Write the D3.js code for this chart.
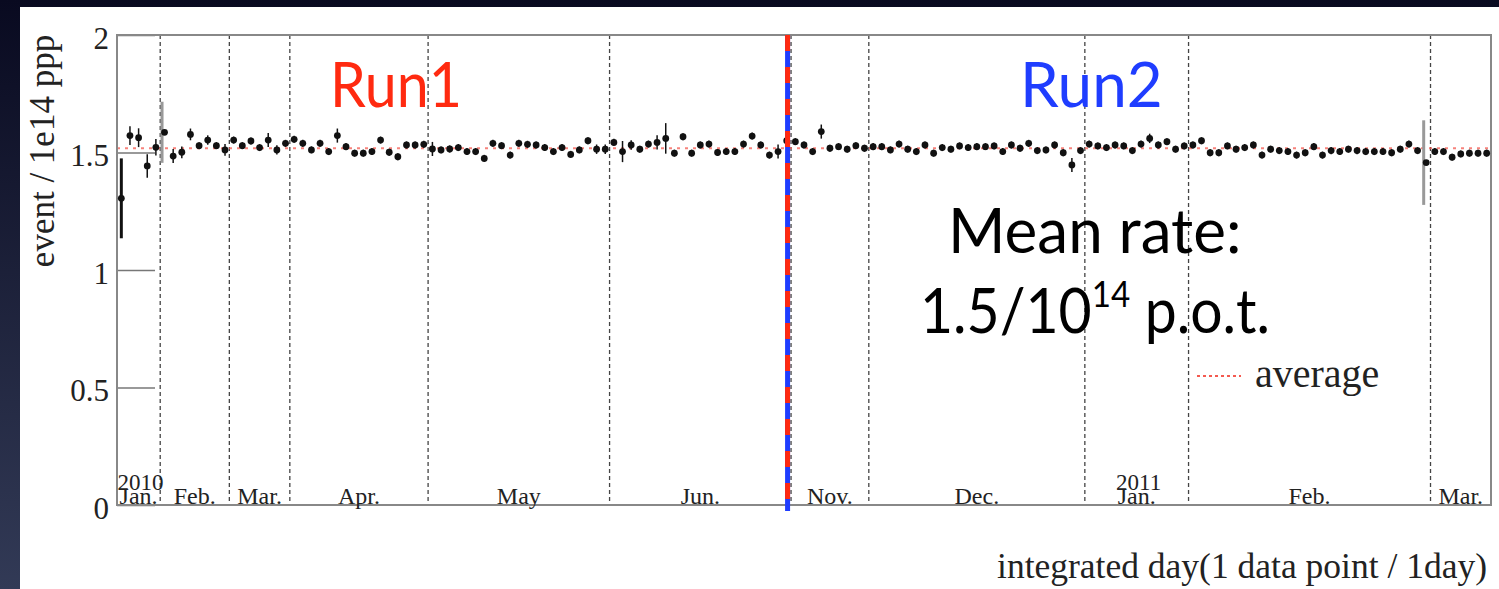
<!DOCTYPE html>
<html>
<head>
<meta charset="utf-8">
<script src="https://cdn.jsdelivr.net/npm/d3@7"></script>
<style>
  html, body { margin: 0; padding: 0; background: #0b0c24; }
  svg { display: block; }
  .serif { font-family: "Liberation Serif", "DejaVu Serif", serif; fill: #222; }
  .slide { font-family: Lato, "Open Sans", sans-serif; }
</style>
</head>
<body>
<svg id="chart" width="1499" height="589"></svg>
<script>
// Daily beam-normalised event rate (events per 1e14 protons), one value per day of data taking
const rate = [
  1.305, 1.572, 1.563, 1.443, 1.522, 1.586, 1.485, 1.501, 1.577, 1.529,
  1.553, 1.529, 1.511, 1.553, 1.529, 1.549, 1.521, 1.553, 1.511, 1.539,
  1.556, 1.539, 1.511, 1.539, 1.504, 1.572, 1.525, 1.497, 1.497, 1.504,
  1.553, 1.501, 1.482, 1.532, 1.532, 1.535, 1.515, 1.511, 1.515, 1.521,
  1.504, 1.504, 1.475, 1.539, 1.529, 1.489, 1.539, 1.535, 1.532, 1.521,
  1.504, 1.521, 1.492, 1.511, 1.550, 1.514, 1.514, 1.543, 1.504, 1.532,
  1.514, 1.536, 1.543, 1.560, 1.497, 1.567, 1.497, 1.532, 1.536, 1.500,
  1.504, 1.504, 1.536, 1.570, 1.532, 1.489, 1.504, 1.550, 1.546, 1.532,
  1.504, 1.589, 1.518, 1.525, 1.514, 1.529, 1.518, 1.525, 1.525, 1.511,
  1.536, 1.514, 1.504, 1.532, 1.497, 1.521, 1.514, 1.528, 1.521, 1.525,
  1.525, 1.528, 1.504, 1.532, 1.518, 1.539, 1.508, 1.511, 1.532, 1.499,
  1.447, 1.508, 1.536, 1.528, 1.521, 1.532, 1.528, 1.508, 1.536, 1.560,
  1.532, 1.546, 1.514, 1.528, 1.532, 1.550, 1.499, 1.499, 1.528, 1.514,
  1.521, 1.532, 1.489, 1.514, 1.508, 1.504, 1.489, 1.499, 1.525, 1.489,
  1.508, 1.504, 1.514, 1.508, 1.504, 1.504, 1.504, 1.499, 1.514, 1.536,
  1.508, 1.457, 1.504, 1.504, 1.480, 1.494, 1.497, 1.497, 1.497
];

// Statistical error on each daily value
const rateErr = [
  0.170, 0.040, 0.040, 0.050, 0.035, 0.130, 0.030, 0.025, 0.025, 0.015,
  0.020, 0.015, 0.025, 0.015, 0.015, 0.015, 0.015, 0.030, 0.020, 0.015,
  0.015, 0.015, 0.015, 0.015, 0.015, 0.030, 0.015, 0.015, 0.015, 0.015,
  0.015, 0.015, 0.015, 0.015, 0.015, 0.015, 0.030, 0.015, 0.015, 0.015,
  0.015, 0.015, 0.015, 0.015, 0.015, 0.015, 0.015, 0.015, 0.015, 0.015,
  0.015, 0.015, 0.015, 0.015, 0.015, 0.020, 0.020, 0.015, 0.045, 0.020,
  0.015, 0.015, 0.030, 0.065, 0.015, 0.015, 0.015, 0.015, 0.015, 0.015,
  0.015, 0.015, 0.015, 0.015, 0.015, 0.015, 0.030, 0.015, 0.015, 0.015,
  0.015, 0.030, 0.015, 0.015, 0.015, 0.015, 0.015, 0.015, 0.015, 0.015,
  0.015, 0.015, 0.015, 0.015, 0.015, 0.015, 0.015, 0.015, 0.015, 0.015,
  0.015, 0.015, 0.015, 0.015, 0.015, 0.015, 0.015, 0.015, 0.015, 0.015,
  0.030, 0.015, 0.015, 0.015, 0.015, 0.015, 0.015, 0.015, 0.015, 0.020,
  0.015, 0.015, 0.015, 0.015, 0.015, 0.015, 0.015, 0.015, 0.015, 0.015,
  0.015, 0.015, 0.015, 0.015, 0.015, 0.015, 0.015, 0.015, 0.015, 0.015,
  0.015, 0.015, 0.015, 0.015, 0.015, 0.015, 0.015, 0.015, 0.015, 0.015,
  0.015, 0.180, 0.015, 0.015, 0.015, 0.015, 0.015, 0.015, 0.015
];

// Days with only partial beam time (low statistics)
const partialDays = [5, 151];

// Month boundaries in integrated-day units and the month names between them
const monthEdges = [0, 5, 13, 20, 36, 57, 78, 87, 112, 124, 152, 159];
const monthNames = ["Jan.", "Feb.", "Mar.", "Apr.", "May", "Jun.", "Nov.", "Dec.", "Jan.", "Feb.", "Mar."];
const yearNames = ["2010", "2011"];
const yearMonthIndex = [0, 8];

const yTicks = [0, 0.5, 1, 1.5, 2];
const averageRate = 1.518;
const runSplitDay = 77.6;
const runNames = ["Run1", "Run2"];

const svg = d3.select("#chart");
const W = 1499, H = 589;

// slide backdrop
const defs = svg.append("defs");
const bg = defs.append("linearGradient").attr("id", "slideBg")
  .attr("x1", 0).attr("y1", 0).attr("x2", 0).attr("y2", 1);
bg.append("stop").attr("offset", "0%").attr("stop-color", "#090a20");
bg.append("stop").attr("offset", "100%").attr("stop-color", "#323a56");
svg.append("rect").attr("width", W).attr("height", H).attr("fill", "url(#slideBg)");
svg.append("rect").attr("x", 20).attr("y", 7).attr("width", W - 20).attr("height", H - 7).attr("fill", "#fff");

const frame = { left: 117, right: 1491, top: 35, bottom: 505 };
const x = d3.scaleLinear().domain([0, rate.length]).range([frame.left, frame.right]);
const y = d3.scaleLinear().domain([0, 2]).range([frame.bottom, frame.top]);

// month separators
svg.append("g").selectAll("line")
  .data(monthEdges.slice(1, -1))
  .join("line")
  .attr("x1", d => x(d)).attr("x2", d => x(d))
  .attr("y1", frame.top).attr("y2", frame.bottom)
  .attr("stroke", "#444").attr("stroke-width", 1.3)
  .attr("stroke-dasharray", "4,3");

// average line
svg.append("line")
  .attr("x1", frame.left).attr("x2", frame.right)
  .attr("y1", y(averageRate)).attr("y2", y(averageRate))
  .attr("stroke", "#f45a50").attr("stroke-opacity", 0.75)
  .attr("stroke-width", 2).attr("stroke-dasharray", "3,5");

// y axis with long inward ticks
const yAxis = d3.axisRight(y).tickValues(yTicks).tickSize(38).tickFormat("");
const gy = svg.append("g").attr("transform", `translate(${frame.left},0)`).call(yAxis);
gy.select(".domain").remove();
gy.selectAll(".tick line").attr("stroke", "#777").attr("stroke-width", 1.5);

svg.append("g").selectAll("text")
  .data(yTicks)
  .join("text")
  .attr("class", "serif")
  .attr("x", 109).attr("y", d => y(d) + 3)
  .attr("text-anchor", "end").attr("dominant-baseline", "central")
  .attr("font-size", 31)
  .text(d => d3.format("")(d));

// frame
svg.append("rect")
  .attr("x", frame.left).attr("y", frame.top)
  .attr("width", frame.right - frame.left).attr("height", frame.bottom - frame.top)
  .attr("fill", "none").attr("stroke", "#888").attr("stroke-width", 2);

// month labels
const months = monthNames.map((m, i) => ({ name: m, mid: (monthEdges[i] + monthEdges[i + 1]) / 2 }));
svg.append("g").selectAll("text")
  .data(months)
  .join("text")
  .attr("class", "serif")
  .attr("x", d => x(d.mid)).attr("y", frame.bottom - 1)
  .attr("text-anchor", "middle").attr("font-size", 24)
  .text(d => d.name);
svg.append("g").selectAll("text")
  .data(yearNames)
  .join("text")
  .attr("class", "serif")
  .attr("x", (d, i) => x(months[yearMonthIndex[i]].mid) + 2)
  .attr("y", frame.bottom - 15)
  .attr("text-anchor", "middle").attr("font-size", 23)
  .text(d => d);

// axis titles
svg.append("text").attr("class", "serif")
  .attr("transform", `translate(54,${(frame.top + 267) / 2}) rotate(-90)`)
  .attr("text-anchor", "middle").attr("font-size", 35)
  .text("event / 1e14 ppp");
svg.append("text").attr("class", "serif")
  .attr("x", 1487).attr("y", 578)
  .attr("text-anchor", "end").attr("font-size", 35.5)
  .text("integrated day(1 data point / 1day)");

// error bars and daily points
const pts = rate.map((v, i) => ({ i, v, e: rateErr[i], partial: partialDays.includes(i) }));
svg.append("g").selectAll("line")
  .data(pts)
  .join("line")
  .attr("x1", d => x(d.i + 0.5) - (d.partial ? 2.5 : 0))
  .attr("x2", d => x(d.i + 0.5) - (d.partial ? 2.5 : 0))
  .attr("y1", d => y(d.v - d.e)).attr("y2", d => y(d.v + d.e))
  .attr("stroke", d => d.partial ? "#999" : "#111")
  .attr("stroke-width", d => d.partial || d.e > 0.1 ? 3 : 1.5);
svg.append("g").selectAll("circle")
  .data(pts)
  .join("circle")
  .attr("cx", d => x(d.i + 0.5)).attr("cy", d => y(d.v))
  .attr("r", 3.4).attr("fill", "#111");

// run divider
const xs = x(runSplitDay);
svg.append("line").attr("x1", xs).attr("x2", xs).attr("y1", frame.top).attr("y2", 511)
  .attr("stroke", "#1f3dff").attr("stroke-width", 5);
svg.append("line").attr("x1", xs).attr("x2", xs).attr("y1", frame.top).attr("y2", 511)
  .attr("stroke", "#ff2a10").attr("stroke-width", 5).attr("stroke-dasharray", "16,16");

// legend
svg.append("line").attr("x1", 1197).attr("x2", 1241).attr("y1", 376).attr("y2", 376)
  .attr("stroke", "#f45a50").attr("stroke-width", 2).attr("stroke-dasharray", "3,3");
svg.append("text").attr("class", "serif").attr("x", 1255).attr("y", 387)
  .attr("font-size", 40).text("average");

// slide annotations
svg.append("text").attr("class", "slide").attr("x", 330).attr("y", 107)
  .attr("font-size", 62).attr("fill", "#ff2a10")
  .attr("textLength", 132).attr("lengthAdjust", "spacingAndGlyphs").text(runNames[0]);
svg.append("text").attr("class", "slide").attr("x", 1020).attr("y", 107)
  .attr("font-size", 62).attr("fill", "#1f3dff").text(runNames[1]);
svg.append("text").attr("class", "slide").attr("x", 948).attr("y", 253)
  .attr("font-size", 62).attr("fill", "#000").text("Mean rate:");
const mr = svg.append("text").attr("class", "slide").attr("x", 920).attr("y", 333)
  .attr("font-size", 62).attr("fill", "#000")
  .attr("textLength", 350).attr("lengthAdjust", "spacingAndGlyphs");
mr.append("tspan").text("1.5/10");
mr.append("tspan").attr("font-size", 36).attr("dy", -26).text("14");
mr.append("tspan").attr("dy", 26).text(" p.o.t.");
</script>
</body>
</html>
